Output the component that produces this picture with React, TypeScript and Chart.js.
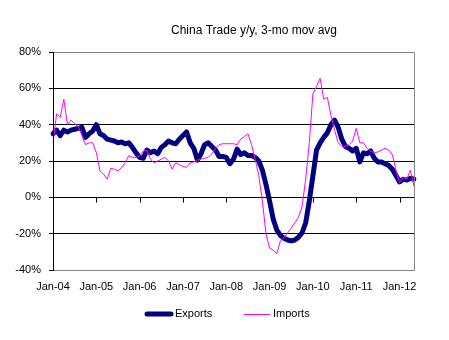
import React, { useEffect, useRef } from 'react';
import { Chart, registerables } from 'chart.js';

Chart.register(...registerables);

const MONTHS = ['Jan', 'Feb', 'Mar', 'Apr', 'May', 'Jun', 'Jul', 'Aug', 'Sep', 'Oct', 'Nov', 'Dec'];
const YEARS = ['04', '05', '06', '07', '08', '09', '10', '11', '12'];
const MONTH_COUNT = 101; // Jan-04 .. May-12

const categories: string[] = [];
YEARS.forEach((y) => MONTHS.forEach((m) => categories.push(`${m}-${y}`)));
const labels = categories.slice(0, MONTH_COUNT);

const exportsYoY = [
  35, 37, 34, 37, 36, 37, 37.5, 38, 38.5, 33, 35, 36.5,
  40, 35, 34, 32, 31.5, 31, 30, 30.5, 29.5, 30, 27.5, 24.5,
  22, 21.5, 26, 24.5, 25.5, 24, 27.5, 29, 31, 30, 29.5, 32,
  34, 36, 30, 27, 20.5, 24, 29, 30, 28, 26, 22.5, 22.5,
  22, 18.5, 21, 26.5, 23.5, 24.5, 23, 23, 22, 20, 15, 7,
  -2, -12, -18, -21, -22.5, -23.5, -24, -23.5, -22, -19.5, -14, -2,
  12, 26, 30, 33, 35.5, 40, 42.5, 38.5, 32, 28, 27, 25.5,
  27, 19.5, 24.5, 24, 25.5, 21.5, 19.5, 19.5, 18.5, 17.5, 15.5, 12,
  8.5, 10, 9.5, 10.5, 10,
];

const importsYoY = [
  30, 46, 44, 54, 40, 42.5, 40.5, 39, 34, 29, 30, 30,
  24.7, 14.6, 12.7, 10, 16, 15.5, 14.6, 16.5, 19, 23, 22, 22,
  23, 25.5, 26, 21, 19, 20, 21, 22, 20, 15.5, 19, 18,
  17, 16.5, 19, 19.5, 20.5, 21, 21.5, 22, 24, 27, 29, 29.5,
  29.5, 29.5, 29.5, 29, 32, 33.5, 35, 29, 21, 12, -2, -20,
  -28, -29, -31, -24, -22, -19.5, -17, -14, -11, -5, 10, 30,
  57, 61, 65.5, 54, 55, 45, 37, 30, 28, 28, 29, 31,
  38, 30, 30, 27, 25.5, 24.5, 25, 26, 27, 26, 23.5, 15,
  8, 11, 10, 15, 6,
];

const xTickLabels = ['Jan-04', 'Jan-05', 'Jan-06', 'Jan-07', 'Jan-08', 'Jan-09', 'Jan-10', 'Jan-11', 'Jan-12'];
const yMin = -40;
const yMax = 80;
const yStep = 20;

const TITLE = 'China Trade y/y, 3-mo mov avg';
const SERIES_NAMES = ['Exports', 'Imports'];
const COLORS = { exports: '#000080', imports: '#FF00FF' };
const FONT = '"Liberation Sans", Arial, sans-serif';

const decorPlugin = {
  id: 'decor',
  afterDraw(chart: any) {
    const { ctx, chartArea } = chart;
    const xs = chart.scales.x;
    const ys = chart.scales.y;
    ctx.save();
    // plot border (gray) top/right/bottom
    const l = Math.round(chartArea.left) + 0.5;
    const r = Math.round(chartArea.right) + 0.5;
    const t = Math.round(chartArea.top) + 0.5;
    const b = Math.round(chartArea.bottom) + 0.5;
    ctx.strokeStyle = '#868686';
    ctx.lineWidth = 1;
    ctx.beginPath();
    ctx.moveTo(l, t);
    ctx.lineTo(r, t);
    ctx.lineTo(r, b);
    ctx.lineTo(l, b);
    ctx.stroke();
    // left axis line
    ctx.strokeStyle = '#000';
    ctx.beginPath();
    ctx.moveTo(l, t - 0.5);
    ctx.lineTo(l, b + 0.5);
    ctx.stroke();
    // x tick marks on zero line
    const y0 = Math.round(ys.getPixelForValue(0)) + 0.5;
    labels.forEach((lab, i) => {
      if (xTickLabels.includes(lab)) {
        const x = Math.round(xs.getPixelForValue(i)) + 0.5;
        ctx.beginPath();
        ctx.moveTo(x, y0);
        ctx.lineTo(x, y0 + 5);
        ctx.stroke();
      }
    });
    // title
    ctx.fillStyle = '#000';
    ctx.font = `12px ${FONT}`;
    ctx.textAlign = 'center';
    ctx.textBaseline = 'middle';
    ctx.fillText(TITLE, 254, 31);
    // legend
    ctx.font = `11px ${FONT}`;
    ctx.textAlign = 'left';
    ctx.strokeStyle = COLORS.exports;
    ctx.lineWidth = 5;
    ctx.lineCap = 'round';
    ctx.beginPath();
    ctx.moveTo(147, 314);
    ctx.lineTo(171, 314);
    ctx.stroke();
    ctx.fillText(SERIES_NAMES[0], 175, 314);
    ctx.strokeStyle = COLORS.imports;
    ctx.lineWidth = 1;
    ctx.lineCap = 'butt';
    ctx.beginPath();
    ctx.moveTo(244, 314.5);
    ctx.lineTo(270, 314.5);
    ctx.stroke();
    ctx.fillText(SERIES_NAMES[1], 273, 314);
    ctx.restore();
  },
};

export default function App() {
  const ref = useRef<HTMLCanvasElement | null>(null);
  useEffect(() => {
    if (!ref.current) return;
    const chart = new Chart(ref.current, {
      type: 'line',
      data: {
        labels,
        datasets: [
          {
            label: SERIES_NAMES[0],
            data: exportsYoY,
            borderColor: COLORS.exports,
            backgroundColor: COLORS.exports,
            borderWidth: 5,
            pointRadius: 0,
            tension: 0,
            order: 1,
            borderJoinStyle: 'round',
            borderCapStyle: 'round',
          },
          {
            label: SERIES_NAMES[1],
            data: importsYoY,
            borderColor: COLORS.imports,
            backgroundColor: COLORS.imports,
            borderWidth: 1,
            pointRadius: 0,
            tension: 0,
            order: 0,
          },
        ],
      },
      options: {
        responsive: false,
        animation: false,
        events: [],
        layout: { padding: { top: 52, right: 35, left: 0, bottom: 0 } },
        plugins: {
          legend: { display: false },
          title: { display: false },
          tooltip: { enabled: false },
        },
        scales: {
          x: {
            type: 'category',
            offset: false,
            grid: { display: false, drawTicks: false },
            border: { display: false },
            ticks: {
              autoSkip: false,
              maxRotation: 0,
              minRotation: 0,
              padding: 10,
              color: '#000',
              font: { family: FONT, size: 11 },
              callback: (_v: any, i: number) => (xTickLabels.includes(labels[i]) ? labels[i] : ''),
            },
            afterFit: (s: any) => {
              s.height = 70;
            },
          },
          y: {
            min: yMin,
            max: yMax,
            grid: {
              color: (c: any) => (c.tick && (c.tick.value === yMin || c.tick.value === yMax) ? '#868686' : '#000'),
              tickColor: '#000',
              tickLength: 4,
              lineWidth: 1,
            },
            border: { display: true, color: '#000' },
            ticks: {
              stepSize: yStep,
              padding: 8,
              color: '#000',
              font: { family: FONT, size: 11 },
              callback: (v: any) => `${v}%`,
            },
            afterFit: (s: any) => {
              s.width = 53;
            },
          },
        },
      },
      plugins: [decorPlugin],
    });
    return () => chart.destroy();
  }, []);
  return (
    <div style={{ position: 'absolute', left: 0, top: 0, width: 449, height: 340, background: '#fff' }}>
      <canvas ref={ref} width={449} height={340} />
    </div>
  );
}
